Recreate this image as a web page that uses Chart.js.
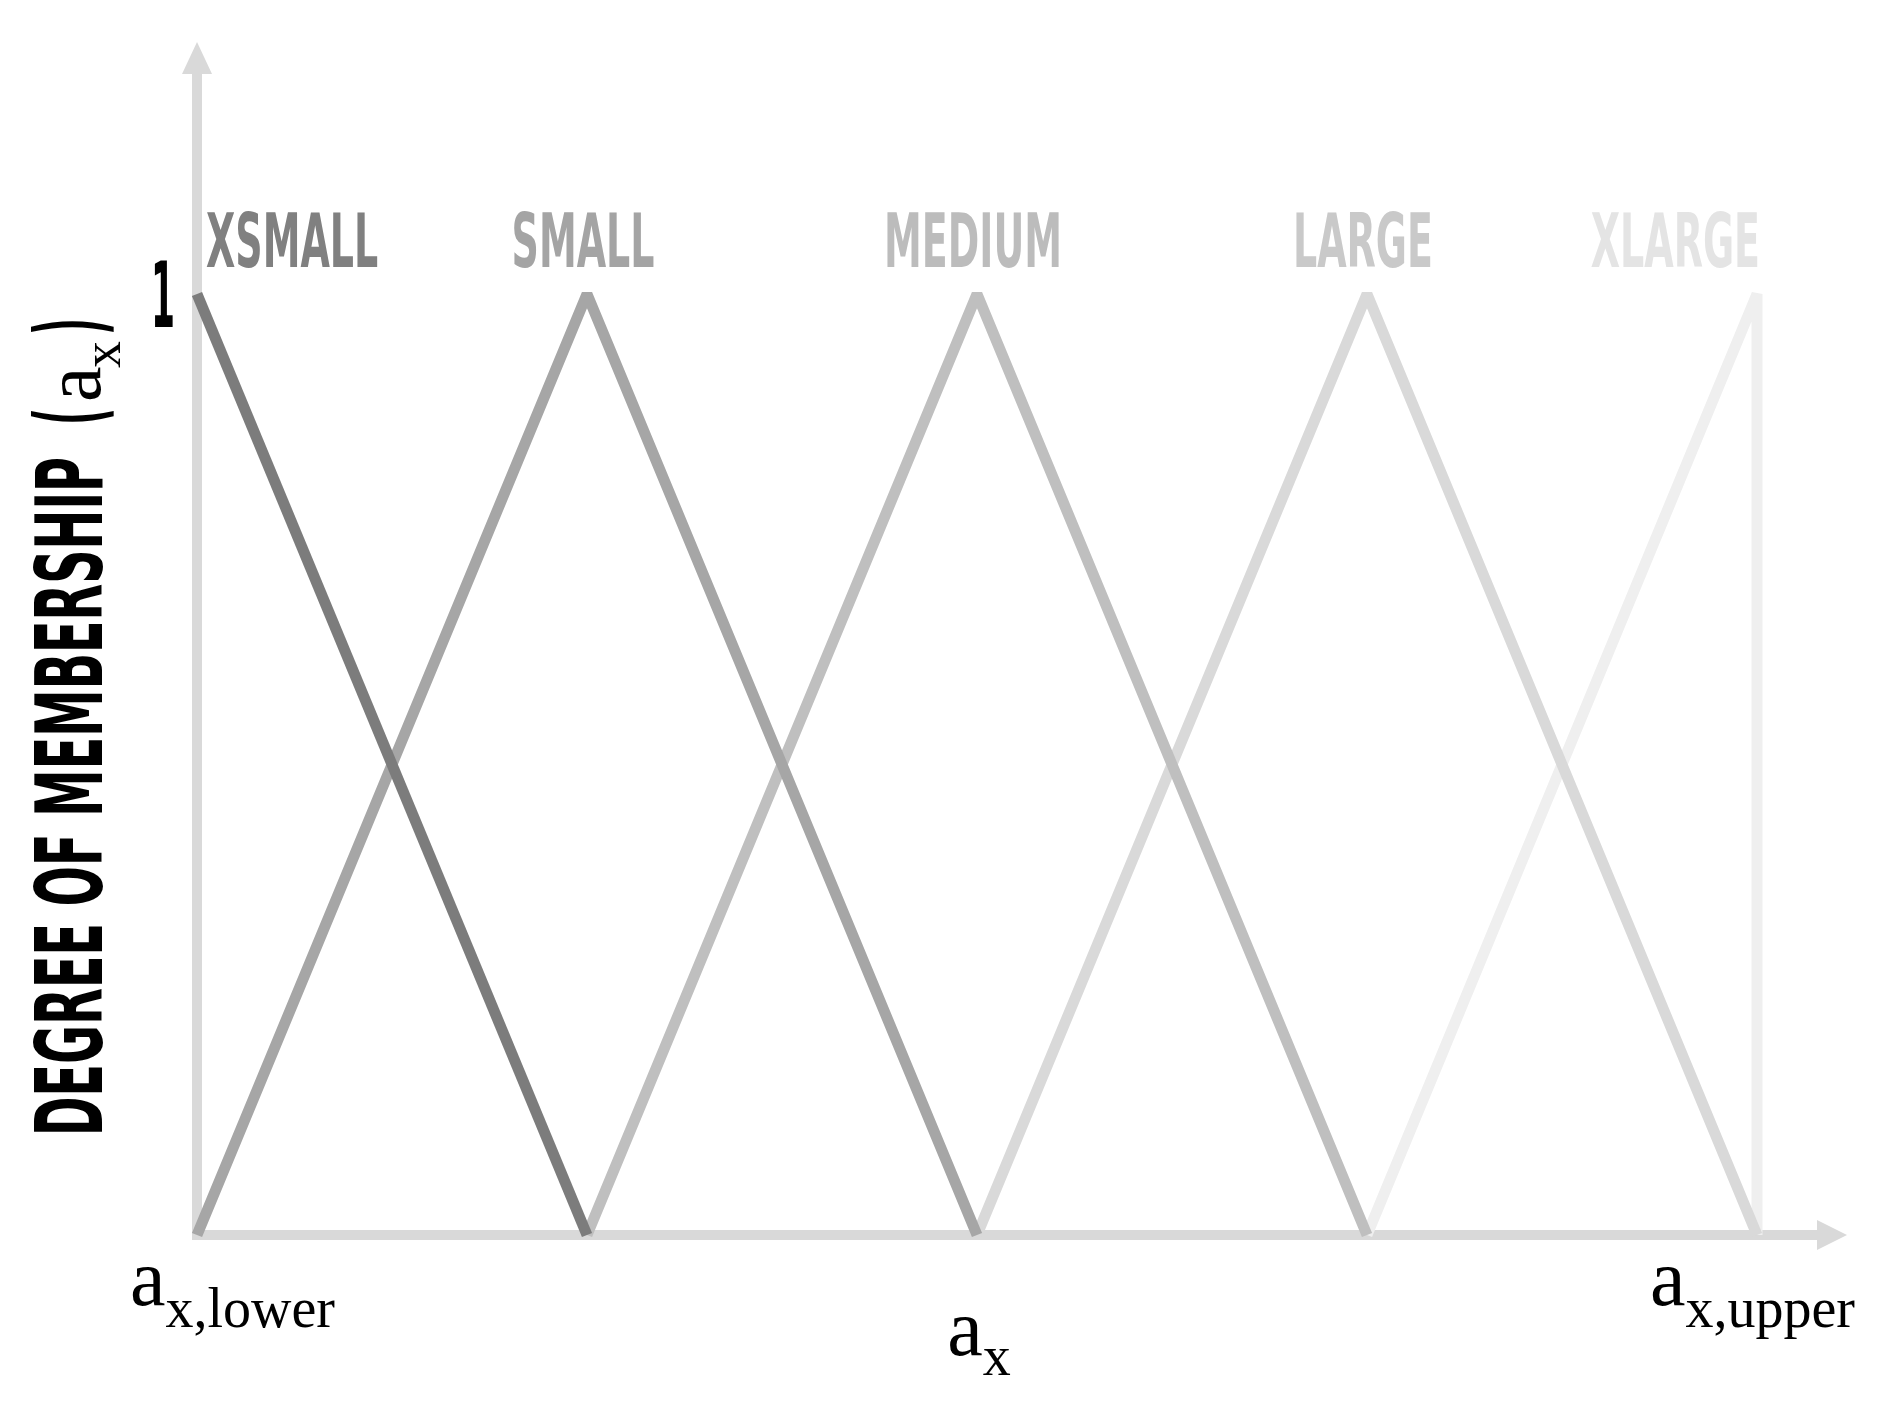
<!DOCTYPE html>
<html>
<head>
<meta charset="utf-8">
<script src="https://cdn.jsdelivr.net/npm/chart.js@4.4.1/dist/chart.umd.min.js"></script>
<style>
  body { margin: 0; background: #fff; }
  #wrap { width: 1891px; height: 1401px; }
</style>
</head>
<body>
<div id="wrap"><canvas id="myChart" width="1891" height="1401"></canvas></div>
<script>
// categorias (funciones de pertenencia)
var categorias = ['XSMALL', 'SMALL', 'MEDIUM', 'LARGE', 'XLARGE'];

// puntos de cada triangulo
var xsmallX = [0, 1];
var xsmallY = [1, 0];
var smallX = [0, 1, 2];
var smallY = [0, 1, 0];
var mediumX = [1, 2, 3];
var mediumY = [0, 1, 0];
var largeX = [2, 3, 4];
var largeY = [0, 1, 0];
var xlargeX = [3, 4, 4];
var xlargeY = [0, 1, 0];

// etiquetas de ejes
var yTicks = [1];
var yTitulo = 'DEGREE OF MEMBERSHIP';
var xIzq = ['a', 'x,lower'];
var xDer = ['a', 'x,upper'];
var xTitulo = ['a', 'x'];

var colores = ['#7c7c7c', '#a6a6a6', '#bfbfbf', '#d9d9d9', '#efefef'];
var coloresTexto = ['#808080', '#a4a4a4', '#bcbcbc', '#c9c9c9', '#e4e4e4'];
var gris = '#d9d9d9';
var condensada = "'Liberation Sans Narrow', 'DejaVu Sans Condensed', 'Roboto', sans-serif";
var serif = "'Liberation Serif', 'DejaVu Serif', serif";

function puntos(xs, ys) {
  var p = [];
  for (var i = 0; i < xs.length; i++) p.push({x: xs[i], y: ys[i]});
  return p;
}

var series = [
  puntos(xsmallX, xsmallY),
  puntos(smallX, smallY),
  puntos(mediumX, mediumY),
  puntos(largeX, largeY),
  puntos(xlargeX, xlargeY)
];

// texto condensado ajustado a un ancho
function textoAncho(ctx, txt, x, y, ancho, align) {
  var w = ctx.measureText(txt).width;
  var sx = ancho / w;
  ctx.save();
  ctx.translate(x, y);
  ctx.scale(sx, 1);
  ctx.textAlign = 'left';
  var x0 = 0;
  if (align === 'center') x0 = -w / 2;
  if (align === 'right') x0 = -w;
  ctx.fillText(txt, x0, 0);
  ctx.restore();
}

function subIndice(ctx, base, sub, x, y, tam, tamSub, dy) {
  ctx.font = tam + 'px ' + serif;
  ctx.textAlign = 'left';
  ctx.fillText(base, x, y);
  var w = ctx.measureText(base).width;
  ctx.font = tamSub + 'px ' + serif;
  ctx.fillText(sub, x + w, y + dy);
  return w + ctx.measureText(sub).width;
}

function anchoSub(ctx, base, sub, tam, tamSub) {
  ctx.font = tam + 'px ' + serif;
  var w = ctx.measureText(base).width;
  ctx.font = tamSub + 'px ' + serif;
  return w + ctx.measureText(sub).width;
}

var decoracion = {
  id: 'decoracion',
  beforeDatasetsDraw: function(chart) {
    var ctx = chart.ctx;
    var xs = chart.scales.x, ys = chart.scales.y;
    var x0 = xs.getPixelForValue(0);
    var y0 = ys.getPixelForValue(0);
    var area = chart.chartArea;
    var topeY = area.top - 252;
    var finX = area.right + 90;
    ctx.save();
    ctx.fillStyle = gris;
    // eje y
    ctx.fillRect(x0 - 5, topeY + 30, 10, y0 + 5 - (topeY + 30));
    ctx.beginPath();
    ctx.moveTo(x0 - 15, topeY + 32);
    ctx.lineTo(x0 + 15, topeY + 32);
    ctx.lineTo(x0, topeY);
    ctx.closePath();
    ctx.fill();
    // eje x
    ctx.fillRect(x0 - 5, y0 - 5, finX - 28 - (x0 - 5), 10);
    ctx.beginPath();
    ctx.moveTo(finX - 30, y0 - 15);
    ctx.lineTo(finX - 30, y0 + 15);
    ctx.lineTo(finX, y0);
    ctx.closePath();
    ctx.fill();
    ctx.restore();
  },
  afterDatasetsDraw: function(chart) {
    var ctx = chart.ctx;
    var xs = chart.scales.x, ys = chart.scales.y;
    var x0 = xs.getPixelForValue(0);
    var y0 = ys.getPixelForValue(0);
    var y1 = ys.getPixelForValue(1);
    ctx.save();
    ctx.textBaseline = 'alphabetic';

    // etiquetas de categorias
    ctx.font = 'bold 74px ' + condensada;
    var sx = 178 / ctx.measureText('MEDIUM').width;
    for (var i = 0; i < categorias.length; i++) {
      var w = ctx.measureText(categorias[i]).width * sx;
      var px = xs.getPixelForValue(i);
      var align = 'center', ax = px - 4;
      if (i === 0) { align = 'left'; ax = px + 9; }
      if (i === categorias.length - 1) { align = 'right'; ax = px + 3; }
      ctx.fillStyle = coloresTexto[i];
      textoAncho(ctx, categorias[i], ax, y1 - 27, w, align);
    }

    // tick "1"
    ctx.fillStyle = '#000';
    ctx.font = 'bold 90px ' + condensada;
    for (var t = 0; t < yTicks.length; t++) {
      var ty = ys.getPixelForValue(yTicks[t]);
      textoAncho(ctx, String(yTicks[t]), x0 - 22, ty + 33, 24, 'right');
    }

    // titulo eje y (rotado)
    ctx.save();
    ctx.translate(102, 1136);
    ctx.rotate(-Math.PI / 2);
    ctx.font = 'bold 92px ' + condensada;
    textoAncho(ctx, yTitulo, 0, 0, 679, 'left');
    textoAncho(ctx, '(', 711, 0, 17, 'left');
    ctx.font = '80px ' + serif;
    ctx.fillText('a', 734, -2);
    ctx.font = '54px ' + serif;
    ctx.fillText('x', 768, 18);
    ctx.font = 'bold 92px ' + condensada;
    textoAncho(ctx, ')', 801, 0, 17, 'left');
    ctx.restore();

    // etiquetas eje x
    ctx.fillStyle = '#000';
    subIndice(ctx, xIzq[0], xIzq[1], x0 - 67, y0 + 70, 80, 56, 22);
    var x4 = xs.getPixelForValue(4);
    var wd = anchoSub(ctx, xDer[0], xDer[1], 80, 56);
    subIndice(ctx, xDer[0], xDer[1], x4 + 98 - wd, y0 + 70, 80, 56, 22);
    var xc = xs.getPixelForValue(2);
    var wc = anchoSub(ctx, xTitulo[0], xTitulo[1], 80, 56);
    subIndice(ctx, xTitulo[0], xTitulo[1], xc - wc / 2 + 2, y0 + 120, 80, 56, 20);
    ctx.restore();
  }
};

var datasets = [];
for (var i = 0; i < categorias.length; i++) {
  datasets.push({
    label: categorias[i],
    data: series[i],
    borderColor: colores[i],
    borderWidth: 11,
    borderJoinStyle: 'bevel',
    borderCapStyle: 'butt',
    pointRadius: 0,
    fill: false,
    tension: 0,
    clip: false
  });
}

var ctx = document.getElementById('myChart').getContext('2d');
var myChart = new Chart(ctx, {
  type: 'line',
  data: { datasets: datasets },
  options: {
    responsive: false,
    animation: false,
    layout: { padding: { left: 197, right: 134, top: 294, bottom: 166 } },
    plugins: { legend: { display: false }, tooltip: { enabled: false } },
    scales: {
      x: { type: 'linear', min: 0, max: 4, display: false },
      y: { type: 'linear', min: 0, max: 1, display: false }
    }
  },
  plugins: [decoracion]
});
</script>
</body>
</html>
